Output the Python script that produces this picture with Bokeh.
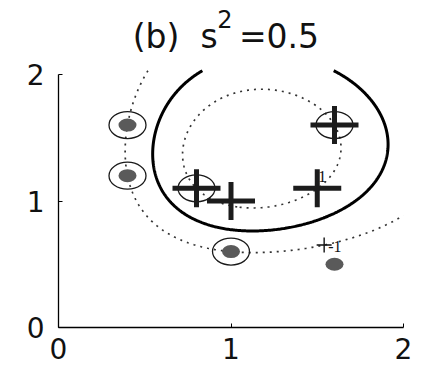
import numpy as np
from bokeh.plotting import figure
from bokeh.models import Range1d, Label, FixedTicker
from bokeh.embed import file_html
from bokeh.resources import INLINE

# training points of the two classes
pos_x = [0.8, 1.0, 1.5, 1.6]
pos_y = [1.1, 1.0, 1.1, 1.6]
neg_x = [0.4, 0.4, 1.0, 1.6]
neg_y = [1.6, 1.2, 0.6, 0.5]

# kernel width of the Gaussian kernel
s2 = 0.5

# margin contours that carry an inline label, and where along x the label sits
label_levels = [1, -1]
label_x = [1.50, 1.54]
label_dx = [1, 4]     # text offset from the label point, px
label_dy = [12, -1]

ticks = [0, 1, 2]

X = np.array(list(zip(pos_x + neg_x, pos_y + neg_y)))
Y = np.array([1.0] * len(pos_x) + [-1.0] * len(neg_x))


def kernel(A, B):
    d2 = ((A[:, None, :] - B[None, :, :]) ** 2).sum(-1)
    return np.exp(-d2 / (2 * s2))


K = kernel(X, X)
Q = (Y[:, None] * Y[None, :]) * K


def solve(active):
    m = len(active)
    A = np.zeros((m + 1, m + 1))
    A[:m, :m] = Q[np.ix_(active, active)]
    A[:m, m] = Y[active]
    A[m, :m] = Y[active]
    rhs = np.r_[np.ones(m), 0.0]
    sol = np.linalg.solve(A, rhs)
    return sol[:m], sol[m]


# hard-margin SVM dual, solved with a small active-set loop
active = list(range(len(Y)))
alpha = np.zeros(len(Y))
b = 0.0
for _ in range(60):
    a, b = solve(active)
    if (a < -1e-9).any():
        active.pop(int(np.argmin(a)))
        continue
    alpha = np.zeros(len(Y))
    alpha[active] = a
    f = (alpha * Y) @ K + b
    viol = [i for i in range(len(Y)) if i not in active and Y[i] * f[i] < 1 - 1e-9]
    if not viol:
        break
    active.append(viol[int(np.argmin(Y[viol] * f[viol]))])


def decision(P):
    return kernel(P, X) @ (alpha * Y) + b


sv = alpha > 1e-7

# evaluation grid; curves stop just above the top of the axes
gx = np.linspace(0, 2, 281)
gy = np.linspace(0, 2.03, 285)
XX, YY = np.meshgrid(gx, gy)
Z = decision(np.column_stack([XX.ravel(), YY.ravel()])).reshape(XX.shape)

# the frame reaches to the top of the canvas so the heading fits inside it;
# the axes themselves are bounded to [0, 2]
p = figure(width=424, height=366, output_backend="svg", toolbar_location=None,
           x_range=Range1d(0, 2), y_range=Range1d(0, 327 / 126.5),
           min_border_left=58, min_border_right=21, min_border_top=0, min_border_bottom=39)
p.grid.visible = False
p.outline_line_color = None
p.background_fill_color = "white"
p.border_fill_color = "white"

for ax in (p.xaxis[0], p.yaxis[0]):
    ax.ticker = FixedTicker(ticks=ticks)
    ax.bounds = (0, 2)
    ax.axis_line_color = "black"
    ax.axis_line_width = 1.3
    ax.major_tick_in = 4
    ax.major_tick_out = 0
    ax.minor_tick_line_color = None
    ax.major_tick_line_color = "black"
    ax.major_label_text_font = "DejaVu Sans"
    ax.major_label_text_font_size = "28px"
    ax.major_label_text_color = "#111111"
p.xaxis.major_label_standoff = 10
p.yaxis.major_label_standoff = 14

# decision boundary and the two margins
p.contour(gx, gy, Z, levels=[0], line_color="black", line_width=3)
p.contour(gx, gy, Z, levels=[-1, 1], line_color="#333333", line_width=1.7, line_dash="2 5")

# support vectors
sx = X[sv, 0]
sy = X[sv, 1]
p.ellipse(x=sx, y=sy, width=37, height=27, width_units="screen", height_units="screen",
          fill_color=None, line_color="#1a1a1a", line_width=1.3)

# negative class
p.ellipse(x=neg_x, y=neg_y, width=18, height=13, width_units="screen", height_units="screen",
          fill_color="#5a5a5a", line_color=None)


def lowest_crossing(level, x0):
    ys = np.linspace(0, 2.03, 2001)
    vals = decision(np.column_stack([np.full_like(ys, x0), ys])) - level
    idx = np.where(np.sign(vals[:-1]) != np.sign(vals[1:]))[0]
    i = idx[0]
    lo, hi = ys[i], ys[i + 1]
    for _ in range(40):
        mid = 0.5 * (lo + hi)
        vm = decision(np.array([[x0, mid]]))[0] - level
        vl = decision(np.array([[x0, lo]]))[0] - level
        if np.sign(vm) == np.sign(vl):
            lo = mid
        else:
            hi = mid
    return 0.5 * (lo + hi)


# inline contour labels
lab_y = [lowest_crossing(lv, xv) for lv, xv in zip(label_levels, label_x)]
p.scatter(x=label_x, y=lab_y, marker="cross", size=15, line_width=1.4, line_color="#111111")
for lv, xv, yv, dx, dy in zip(label_levels, label_x, lab_y, label_dx, label_dy):
    p.add_layout(Label(x=xv, y=yv, x_offset=dx, y_offset=dy, text=str(lv),
                       text_font="Liberation Serif", text_font_size="16px",
                       text_color="#111111", text_baseline="alphabetic"))

# positive class
p.scatter(x=pos_x, y=pos_y, marker="dash", size=48, line_width=5, line_color="#1c1c1c")
p.scatter(x=pos_x, y=pos_y, marker="dash", size=38, angle=np.pi / 2, line_width=5,
          line_color="#1c1c1c")

# heading, laid out around the middle of the x axis
title_parts = [("(b)", -75, 0, "33px"), ("s", -22, 0, "33px"), ("2", -6, 18, "24px"),
               ("=0.5", 48, 0, "33px")]
for txt, dx, dy, fs in title_parts:
    p.add_layout(Label(x=1.0, y=2.30, x_offset=dx, y_offset=dy, text=txt,
                       text_font="DejaVu Sans", text_font_size=fs, text_color="#111111",
                       text_align="center", text_baseline="alphabetic"))

open("out.html", "w").write(file_html(p, INLINE))
